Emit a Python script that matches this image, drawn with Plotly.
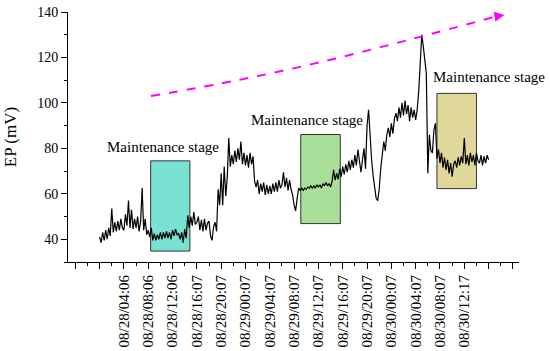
import plotly.graph_objects as go

# Hours relative to the 08/28/04:06 tick; one reading every 15 minutes
start_hour = -4.0
step_hour = 0.25
ep_mv = [
    41, 38.5, 43, 39.5,  44, 40, 45, 41.5,  53.5, 43, 47.5, 43.5,  48, 44, 49, 45,
    44, 51, 46, 57,  45, 53, 44.5, 49,  45, 50, 43.5, 48,  62.5, 44, 49, 42,
    44, 41, 45, 39.5,  42.5, 39.5, 42, 40,  43, 40, 43, 40.5,  43.5, 40.5, 43, 40,
    44, 41.5, 44.5, 42,  42.5, 40, 43, 38.5,  44.5, 40.5, 50.5, 45,  50, 46, 52, 46.5,
    47.5, 50, 44, 48.5,  43.5, 49, 44, 47,  48, 41.5, 39.5, 45.5,  47.5, 43.5, 62, 55,
    69, 55, 72, 59,  67, 84.5, 72, 77,  73, 79, 74, 80,  75, 83, 73, 78,
    72.5, 77, 71.5, 78,  73, 76.5, 65.5, 63,  66, 60, 64.5, 61,  65, 59.5, 64, 60,
    63.5, 60, 64.5, 61,  65, 61, 66, 62.5,  64, 69.5, 63, 67,  61.5, 66, 62, 59.5,
    55, 52.5, 58, 62.5,  61.5, 62.5, 61.5, 62.5,  62, 63, 62.5, 63.5,  62.5, 63.5, 62.5, 64,
    63, 64, 62.5, 64.5,  63.5, 65, 63.5, 64.5,  63, 65.5, 70.5, 66,  69, 66.5, 71, 67.5,
    72, 68.5, 73, 69.5,  74.5, 70.5, 75, 71.5,  77, 72.5, 79.5, 73.5,  69.5, 75, 80, 71,
    90, 97, 84, 75,  68, 62, 58, 57,  62, 71, 78, 83,  79, 86, 89, 85,
    91, 86.5, 93, 95.5,  92, 98, 93.5, 100,  94.5, 101, 95, 99,  92, 98, 93.5, 97,
    92.5, 97, 105, 118,  130, 125, 118, 113,  69, 86, 79, 78,  88, 91, 75.5, 79.5,
    73.5, 78, 71.5, 76,  70.5, 75, 69, 73.5,  67.5, 73, 74.5, 71.5,  76, 72.5, 76.5, 73.5,
    84.5, 73, 77, 72.5,  78, 74, 77, 72.5,  78, 74.5, 73.5, 77,  72.5, 76.5, 73.5, 77,
    75,
]
hours = [start_hour + step_hour * i for i in range(len(ep_mv))]

tick_hours = [-8, -4, 0, 4, 8, 12, 16, 20, 24, 28, 32, 36, 40, 44, 48, 52, 56, 60, 64]
tick_labels = ["", "", "08/28/04:06", "08/28/08:06", "08/28/12:06", "08/28/16:07",
               "08/28/20:07", "08/29/00:07", "08/29/04:07", "08/29/08:07",
               "08/29/12:07", "08/29/16:07", "08/29/20:07", "08/30/00:07",
               "08/30/04:07", "08/30/08:07", "08/30/12:17", "", ""]
minor_hours = [-6, -2, 2, 6, 10, 14, 18, 22, 26, 30, 34, 38, 42, 46, 50, 54, 58, 62]

# Maintenance stages
stages_x0 = [4.4, 29.1, 51.5]
stages_x1 = [10.85, 35.6, 58.0]
stages_y0 = [34.8, 46.9, 62.3]
stages_y1 = [74.5, 86.1, 104.2]
stage_colors = ["rgb(122,226,211)", "rgb(168,224,154)", "rgb(224,216,154)"]
label_x = [6.4, 30.1, 60.0]
label_y = [80.5, 92.4, 111.4]

trend_x = [4.44, 18.75, 33.06, 47.37, 61.3]
trend_y = [103.0, 110.0, 118.4, 128.1, 138.1]

serif = "Liberation Serif"

fig = go.Figure()
for i in range(3):
    fig.add_shape(type="rect", xref="x", yref="y",
                  x0=stages_x0[i], x1=stages_x1[i], y0=stages_y0[i], y1=stages_y1[i],
                  fillcolor=stage_colors[i], line=dict(color="#333333", width=1),
                  layer="below")
    fig.add_annotation(x=label_x[i], y=label_y[i], text="Maintenance stage",
                       showarrow=False, font=dict(family=serif, size=15, color="black"))

fig.add_trace(go.Scatter(x=hours, y=ep_mv, mode="lines",
                         line=dict(color="black", width=1.2), showlegend=False))
fig.add_trace(go.Scatter(x=trend_x, y=trend_y, mode="lines",
                         line=dict(color="#ff00ff", width=2, dash="dash", shape="spline"),
                         showlegend=False))
fig.add_annotation(x=62.6, y=138.7, ax=61.0, ay=138.0, xref="x", yref="y",
                   axref="x", ayref="y", showarrow=True, arrowhead=2,
                   arrowsize=1, arrowwidth=2, arrowcolor="#ff00ff", text="")

fig.update_layout(
    width=550, height=351,
    margin=dict(l=68, r=31, t=12, b=89),
    paper_bgcolor="white", plot_bgcolor="white",
    font=dict(family=serif, size=14, color="black"),
)
fig.update_xaxes(range=[-9.2, 65], showgrid=False, zeroline=False, automargin=False,
                 showline=True, linecolor="black", linewidth=1,
                 tickmode="array", tickvals=tick_hours, ticktext=tick_labels,
                 ticks="outside", ticklen=6, tickcolor="black", tickangle=-90,
                 tickfont=dict(family=serif, size=15),
                 minor=dict(tickmode="array", tickvals=minor_hours,
                            ticks="outside", ticklen=3, tickcolor="black"))
fig.update_yaxes(range=[30, 140], showgrid=False, zeroline=False, automargin=False,
                 showline=True, linecolor="black", linewidth=1,
                 tickmode="array", tickvals=[40, 60, 80, 100, 120, 140],
                 ticks="outside", ticklen=6, tickcolor="black",
                 tickfont=dict(family=serif, size=14),
                 title=dict(text="EP (mV)", font=dict(family=serif, size=17), standoff=16),
                 minor=dict(tickmode="array", tickvals=[30, 50, 70, 90, 110, 130],
                            ticks="outside", ticklen=3, tickcolor="black"))

# Remove the page's default body margin so the figure sits at the window's corner.
fig.write_html("out.html", config={"displayModeBar": False},
               post_script="document.body.style.margin='0';")
